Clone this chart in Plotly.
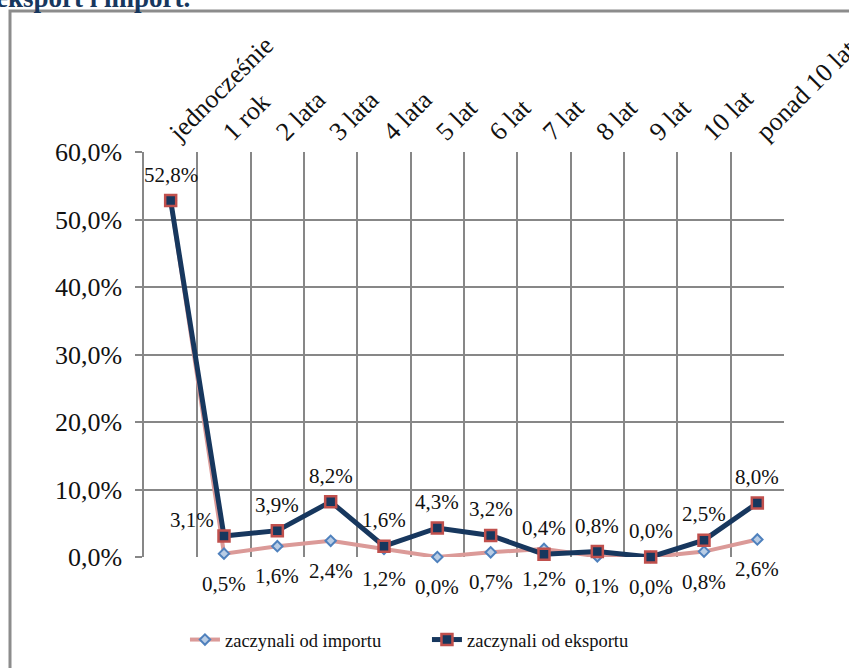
import plotly.graph_objects as go

# Okres między rozpoczęciem importu i eksportu
categories = ["jednocześnie", "1 rok", "2 lata", "3 lata", "4 lata", "5 lat",
              "6 lat", "7 lat", "8 lat", "9 lat", "10 lat", "ponad 10 lat"]
import_first = [52.8, 0.5, 1.6, 2.4, 1.2, 0.0, 0.7, 1.2, 0.1, 0.0, 0.8, 2.6]
export_first = [52.8, 3.1, 3.9, 8.2, 1.6, 4.3, 3.2, 0.4, 0.8, 0.0, 2.5, 8.0]
y_ticks = [0, 10, 20, 30, 40, 50, 60]

FONT = "Liberation Serif, Times New Roman, serif"
GRID = "#878787"
TEXT = "#111111"


def pct(v):
    return f"{v:.1f}%".replace(".", ",")


fig = go.Figure()

fig.add_trace(go.Scatter(
    x=categories, y=import_first, name="zaczynali od importu",
    mode="lines+markers",
    line=dict(color="#DB9A98", width=4),
    marker=dict(symbol="diamond", size=8, color="#B9CDE5",
                line=dict(color="#4F81BD", width=2)),
    cliponaxis=False,
))

fig.add_trace(go.Scatter(
    x=categories, y=export_first, name="zaczynali od eksportu",
    mode="lines+markers",
    line=dict(color="#17375E", width=5),
    marker=dict(symbol="square", size=11, color="#17375E",
                line=dict(color="#C0504D", width=2.5)),
    cliponaxis=False,
))

# value labels: export above its points, import below
# (the import value for "jednocześnie" coincides with export and is not labelled)
labels = []
for i, (cat, v) in enumerate(zip(categories, export_first)):
    dx, dy = (-32, 16) if i == 1 else (0, 26)
    labels.append(dict(x=cat, y=v, xref="x", yref="y", text=pct(v),
                       xshift=dx, yshift=dy, showarrow=False,
                       font=dict(family=FONT, size=21, color=TEXT)))
for i, (cat, v) in enumerate(zip(categories, import_first)):
    if i == 0:
        continue
    labels.append(dict(x=cat, y=v, xref="x", yref="y", text=pct(v),
                       yshift=-30, showarrow=False,
                       font=dict(family=FONT, size=21, color=TEXT)))

n = len(categories)
boundaries = [i - 0.5 for i in range(n + 1)]

fig.update_layout(
    width=849, height=668,
    margin=dict(l=144, r=65, t=152, b=111, autoexpand=False),
    paper_bgcolor="white", plot_bgcolor="white",
    font=dict(family=FONT, color=TEXT),
    showlegend=True,
    legend=dict(
        orientation="h", x=0.064, xanchor="left", y=-0.205, yanchor="middle",
        font=dict(family=FONT, size=18.5, color=TEXT),
        entrywidth=197, entrywidthmode="pixels",
        bgcolor="rgba(0,0,0,0)",
    ),
    xaxis=dict(
        type="category", categoryorder="array", categoryarray=categories,
        side="top", tickangle=-45, tickson="boundaries", automargin=False,
        showgrid=True, gridcolor=GRID, gridwidth=1.5,
        ticks="", showline=False, zeroline=False,
        tickfont=dict(family=FONT, size=26, color=TEXT),
        range=[-0.5, n - 0.5],
    ),
    xaxis2=dict(
        overlaying="x", anchor="y", side="bottom", type="linear",
        range=[-0.5, n - 0.5], tickmode="array", tickvals=boundaries,
        showticklabels=False, ticks="outside", ticklen=8, tickwidth=1.5,
        tickcolor=GRID, showgrid=False, zeroline=False, automargin=False,
        showline=True, linecolor=GRID, linewidth=1.5,
    ),
    yaxis=dict(
        range=[0, 60], tickmode="array", tickvals=y_ticks,
        ticktext=[pct(v) for v in y_ticks], automargin=False,
        showgrid=True, gridcolor=GRID, gridwidth=1.5,
        ticks="outside", ticklen=7, tickwidth=1.5, tickcolor=GRID,
        ticklabelstandoff=8,
        showline=True, linecolor=GRID, linewidth=1.5, zeroline=False,
        tickfont=dict(family=FONT, size=26, color=TEXT),
    ),
    shapes=[dict(
        type="rect", xref="paper", yref="paper",
        x0=(10 - 144) / 640, x1=1.3, y0=-0.4, y1=(557 - 11) / 405,
        line=dict(color="#8C8C8C", width=3), fillcolor="rgba(0,0,0,0)",
        layer="below",
    )],
    annotations=labels + [dict(
        text="<b>eksport i import.</b>", xref="paper", yref="paper",
        x=(-6 - 144) / 640, xanchor="left",
        y=(557 - 15) / 405, yanchor="bottom", showarrow=False,
        font=dict(family=FONT, size=27, color="#17375E"),
    )],
)

fig.write_html("out.html")
